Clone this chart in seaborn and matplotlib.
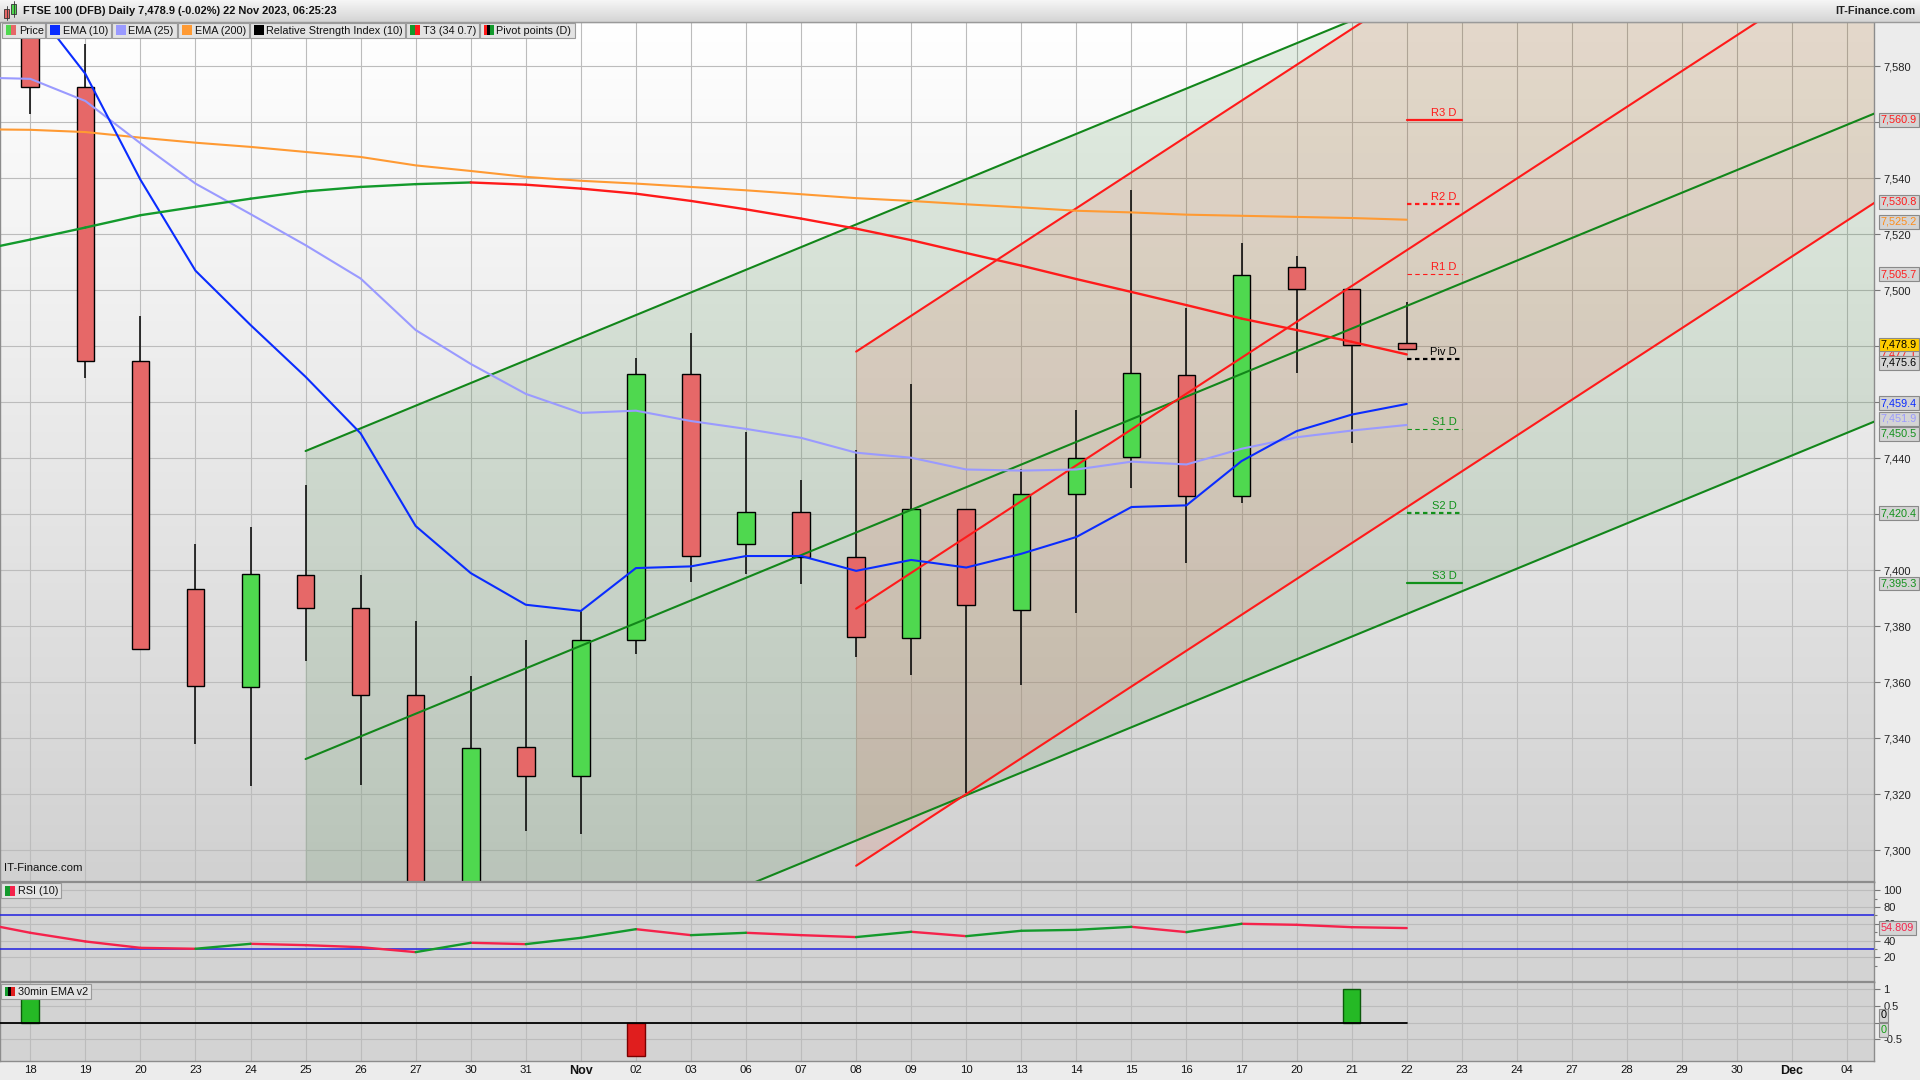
import numpy as np
import pandas as pd
import matplotlib.pyplot as plt
import seaborn as sns
from matplotlib.colors import LinearSegmentedColormap
from matplotlib.patches import Rectangle

sns.set_theme(style='white')
plt.rcParams['font.family'] = ['Liberation Sans', 'DejaVu Sans']

# x axis: trading days, index 0 = 18 Oct 2023
day_labels = ['18', '19', '20', '23', '24', '25', '26', '27', '30', '31', 'Nov', '02', '03',
              '06', '07', '08', '09', '10', '13', '14', '15', '16', '17', '20', '21', '22',
              '23', '24', '27', '28', '29', '30', 'Dec', '04']

# daily candles 18 Oct - 22 Nov
candle_open = [7598.0, 7572.6, 7474.7, 7393.2, 7358.3, 7398.2, 7386.5, 7355.4, 7285.0, 7336.8,
               7326.4, 7375.2, 7470.1, 7409.5, 7420.8, 7404.7, 7375.8, 7421.8, 7385.9, 7427.3,
               7440.4, 7469.9, 7426.5, 7508.2, 7500.6, 7481.1]
candle_high = [7606.0, 7588.0, 7490.9, 7409.5, 7415.4, 7430.5, 7398.4, 7381.9, 7362.3, 7375.2,
               7385.9, 7475.7, 7484.6, 7449.3, 7432.3, 7443.0, 7466.5, 7422.0, 7436.0, 7457.2,
               7535.9, 7493.7, 7516.9, 7512.3, 7500.6, 7495.8]
candle_low = [7562.9, 7468.7, 7371.8, 7338.1, 7323.1, 7367.5, 7323.5, 7275.0, 7275.0, 7307.0,
              7306.0, 7370.0, 7396.0, 7398.8, 7395.0, 7369.2, 7362.7, 7320.5, 7359.1, 7384.9,
              7429.5, 7402.7, 7424.0, 7470.3, 7445.5, 7478.9]
candle_close = [7572.6, 7474.7, 7371.8, 7358.7, 7398.8, 7386.5, 7355.4, 7282.0, 7336.4, 7326.6,
                7375.0, 7470.1, 7405.1, 7420.8, 7404.7, 7376.2, 7421.9, 7387.7, 7427.1, 7440.2,
                7470.3, 7426.5, 7505.6, 7500.6, 7480.6, 7478.9]

# indicator lines, index -1 (17 Oct) to 25 (22 Nov)
line_days = list(range(-1, 26))
ema10 = [7628.0, 7602.6, 7577.3, 7539.5, 7507.0, 7487.6, 7469.1, 7448.9, 7415.8, 7399.0, 7387.7,
         7385.5, 7400.8, 7401.4, 7405.1, 7405.1, 7399.8, 7403.7, 7401.0, 7405.9, 7411.9, 7422.6,
         7423.2, 7439.0, 7449.7, 7455.6, 7459.4]
ema25 = [7576.0, 7575.5, 7567.6, 7552.5, 7538.1, 7527.2, 7516.1, 7504.2, 7485.8, 7473.7, 7463.0,
         7456.2, 7457.0, 7453.3, 7450.5, 7447.3, 7442.0, 7440.2, 7436.0, 7435.6, 7436.0, 7438.8,
         7437.8, 7443.4, 7447.5, 7449.9, 7451.9]
ema200 = [7557.5, 7557.3, 7556.5, 7554.5, 7552.7, 7551.2, 7549.4, 7547.6, 7544.6, 7542.6, 7540.5,
          7539.1, 7538.1, 7536.9, 7535.7, 7534.3, 7532.9, 7531.9, 7530.7, 7529.6, 7528.4, 7527.8,
          7527.0, 7526.6, 7526.2, 7525.8, 7525.2]
t3 = [7514.0, 7518.1, 7522.4, 7526.8, 7529.8, 7532.7, 7535.3, 7536.9, 7537.9, 7538.5, 7537.7,
      7536.3, 7534.5, 7531.9, 7528.9, 7525.6, 7522.0, 7517.9, 7513.3, 7508.8, 7504.0, 7499.4,
      7494.7, 7489.9, 7485.8, 7481.6, 7477.1]
rsi = [62.0, 49.2, 38.9, 31.3, 30.2, 36.1, 34.5, 32.1, 26.2, 37.3, 35.7, 43.2, 53.5, 46.4, 49.2,
       46.4, 44.1, 50.4, 45.2, 51.6, 52.7, 56.3, 50.0, 59.9, 58.7, 55.9, 54.809]

# 30min EMA v2 signal bars
signal_days = [0, 11, 24]
signal_values = [1, -1, 1]

# trend channels: (start day, centre at start, slope per day, half width)
green_channel = (5, 7332.6, 8.09, 110.0)
red_channel = (15, 7386.3, 12.8, 91.8)

# daily pivot points for 22 Nov
pivot_names = ['R3 D', 'R2 D', 'R1 D', 'Piv D', 'S1 D', 'S2 D', 'S3 D']
pivot_values = [7560.9, 7530.8, 7505.7, 7475.6, 7450.5, 7420.4, 7395.3]

W, H = 1920, 1080
GREEN = '#12861a'
RED = '#ff1a1a'


def rect(l, t, r, b):
    return [l / W, 1 - b / H, (r - l) / W, (b - t) / H]


def seg_frame(x, y):
    rows = []
    for k in range(len(x) - 1):
        d = 'up' if y[k + 1] >= y[k] else 'down'
        rows += [(k, x[k], y[k], d), (k, x[k + 1], y[k + 1], d)]
    return pd.DataFrame(rows, columns=['seg', 'day', 'value', 'dir'])


def channel(ch, x_end=34):
    start, centre, slope, half = ch
    x = np.array([start, x_end])
    mid = centre + slope * (x - start)
    return x, mid - half, mid, mid + half


fig = plt.figure(figsize=(19.2, 10.8), dpi=100, facecolor='#ececec')
ax = fig.add_axes(rect(0, 22, 1873.6, 881.7))
ax_rsi = fig.add_axes(rect(0, 881.7, 1873.6, 981.7), sharex=ax)
ax_sig = fig.add_axes(rect(0, 981.7, 1873.6, 1061), sharex=ax)

grad = np.linspace(0, 1, 256).reshape(-1, 1)
ax.imshow(grad, cmap=LinearSegmentedColormap.from_list('bg', ['#ffffff', '#d1d1d1']),
          aspect='auto', extent=(0, 1, 0, 1), transform=ax.transAxes, zorder=0)
for a in (ax_rsi, ax_sig):
    a.set_facecolor('#d3d3d3')

# channels
gx, glo, gmid, ghi = channel(green_channel)
rx, rlo, rmid, rhi = channel(red_channel)
ax.fill_between(gx, glo, ghi, color='#006100', alpha=0.11, lw=0, zorder=1)
ax.fill_between(rx, rlo, rhi, color='#eb461e', alpha=0.12, lw=0, zorder=1.1)
for y in (glo, gmid, ghi):
    ax.plot(gx, y, color=GREEN, lw=1.5, zorder=3)
for y in (rlo, rmid, rhi):
    ax.plot(rx, y, color=RED, lw=1.5, zorder=3)

# candles
df = pd.DataFrame({'open': candle_open, 'high': candle_high,
                   'low': candle_low, 'close': candle_close})
df['day'] = np.arange(len(df))
body_col = np.where(df.close >= df.open, '#4fd84f', '#e66868')
ax.vlines(df.day, df.low, df.high, color='black', lw=1.1, zorder=2)
ax.bar(df.day, (df.close - df.open).abs(), bottom=df[['open', 'close']].min(axis=1),
       width=0.32, color=body_col, edgecolor='black', linewidth=1, zorder=2.1)

# moving averages
lines = pd.DataFrame({'day': line_days, 'ema10': ema10, 'ema25': ema25, 'ema200': ema200})
sns.lineplot(data=lines, x='day', y='ema200', ax=ax, color='#ff9a33', lw=1.5, zorder=4)
sns.lineplot(data=lines, x='day', y='ema25', ax=ax, color='#9a9aff', lw=1.5, zorder=4)
sns.lineplot(data=lines, x='day', y='ema10', ax=ax, color='#0a2cff', lw=1.5, zorder=4)
sns.lineplot(data=seg_frame(line_days, t3), x='day', y='value', hue='dir', units='seg',
             estimator=None, palette={'up': '#139a2c', 'down': RED}, lw=1.7,
             legend=False, ax=ax, zorder=4)

# pivots
piv_colors = [RED] * 3 + ['black'] + ['#11911a'] * 3
piv_styles = ['-', (0, (2, 1.6)), (0, (4, 3)), (0, (2, 1.6)), (0, (4, 3)), (0, (2, 1.6)), '-']
piv_widths = [1.6, 1.6, 0.8, 1.6, 0.8, 1.6, 1.6]
for name, val, c, ls, lw in zip(pivot_names, pivot_values, piv_colors, piv_styles, piv_widths):
    ax.plot([25, 26], [val, val], color=c, ls=ls, lw=lw, zorder=3)
    ax.annotate(name, (25.9, val), xytext=(0, 1.5), textcoords='offset points',
                ha='right', va='bottom', fontsize=8, color=c, zorder=5)

ax.text(0.002, 0.012, 'IT-Finance.com', transform=ax.transAxes, fontsize=8.2,
        color='#111111', zorder=6)

# RSI panel
sns.lineplot(data=seg_frame(line_days, rsi), x='day', y='value', hue='dir', units='seg',
             estimator=None, palette={'up': '#139a2c', 'down': '#f5224b'}, lw=1.7,
             legend=False, ax=ax_rsi, zorder=4)
ax_rsi.axhline(70, color='#2020e0', lw=1.1, zorder=3)
ax_rsi.axhline(30, color='#2020e0', lw=1.1, zorder=3)

# signal panel
sig = pd.DataFrame({'day': signal_days, 'value': signal_values})
ax_sig.bar(sig.day, sig.value, width=0.32,
           color=np.where(sig.value > 0, '#25b925', '#e01e1e'),
           edgecolor=np.where(sig.value > 0, '#0b5a0b', '#7a0000'), lw=1, zorder=2)
ax_sig.plot([-1, 25], [0, 0], color='black', lw=1.3, zorder=3)

# axes, ticks, grid
ax.set_xlim(-0.55, 33.48)
ax.set_ylim(7288.8, 7595.8)
ax_rsi.set_ylim(-9, 110)
ax_sig.set_ylim(-1.15, 1.23)

# labels under the value boxes are hidden in the original, so they stay blank
covered = {7560, 7480, 7460, 7420}
price_ticks = list(range(7300, 7600, 20))
ax.set_yticks(price_ticks)
ax.set_yticklabels(['' if v in covered else f'{v:,}' for v in price_ticks])
for lab, v in zip(ax.get_yticklabels(), price_ticks):
    if v % 100 == 0:
        lab.set_fontweight('bold')
ax_rsi.set_yticks([20, 40, 60, 80, 100])
ax_rsi.set_yticks([10, 30, 50, 70, 90], minor=True)
ax_rsi.set_yticklabels(['20', '40', '60', '80', '100'])
ax_rsi.get_yticklabels()[-1].set_fontweight('bold')
ax_sig.set_yticks([-0.5, 0, 0.5, 1])
ax_sig.set_yticklabels(['-0.5', '', '0.5', '1'])

for a in (ax, ax_rsi, ax_sig):
    a.set_xticks(range(len(day_labels)))
    a.grid(True, color='#bcbcbc', lw=0.8)
    a.grid(False, which='minor')
    a.set_axisbelow(True)
    a.yaxis.tick_right()
    a.tick_params(axis='y', which='both', right=True, length=4, width=0.8, color='#777777',
                  labelsize=8, labelcolor='#222222', pad=3)
    a.tick_params(axis='y', which='minor', length=2.5)
    a.tick_params(axis='x', length=0)
    a.set_xlabel('')
    a.set_ylabel('')
    for s in a.spines.values():
        s.set_color('#8c8c8c')
        s.set_linewidth(1.0)
    a.spines['top'].set_linewidth(1.6)
ax.tick_params(axis='x', labelbottom=False)
ax_rsi.tick_params(axis='x', labelbottom=False)
ax_sig.set_xticklabels(day_labels)
ax_sig.tick_params(axis='x', labelsize=8.2, labelcolor='#111111', pad=3)
for lab in ax_sig.get_xticklabels():
    if lab.get_text() in ('Nov', 'Dec'):
        lab.set_fontweight('bold')
        lab.set_fontsize(9)


def value_box(a, val, color, face='#d4d4d4', dy=0, fmt='{:,.1f}'):
    a.annotate(fmt.format(val), xy=(1, val), xycoords=('axes fraction', 'data'),
               xytext=(5, dy), textcoords='offset points', ha='left', va='center',
               fontsize=7.8, color=color, annotation_clip=False, zorder=10,
               bbox=dict(boxstyle='square,pad=0.18', fc=face, ec='#8a8a8a', lw=0.8))


value_box(ax, pivot_values[0], RED)
value_box(ax, pivot_values[1], RED, dy=1.5)
value_box(ax, ema200[-1], '#ff8c1a', dy=-1.5)
value_box(ax, pivot_values[2], RED)
value_box(ax, t3[-1], RED)
value_box(ax, pivot_values[3], 'black', dy=-3)
value_box(ax, candle_close[-1], 'black', face='#ffcc00', dy=3.5)
value_box(ax, ema10[-1], '#0a2cff', dy=0.5)
value_box(ax, ema25[-1], '#9a9aff', dy=4.6)
value_box(ax, pivot_values[4], '#11911a', dy=-3.6)
value_box(ax, pivot_values[5], '#11911a')
value_box(ax, pivot_values[6], '#11911a')
value_box(ax_rsi, rsi[-1], '#f5224b', fmt='{:.3f}')
value_box(ax_sig, 0, 'black', dy=5.2, fmt='{:.0f}')
value_box(ax_sig, 0, '#11a011', dy=-5.2, fmt='{:.0f}')

# overlay: header bar and legend chips
ov = fig.add_axes([0, 0, 1, 1], zorder=20)
ov.imshow(grad, cmap=LinearSegmentedColormap.from_list('hd', ['#f6f6f6', '#d4d4d4']),
          aspect='auto', extent=(0, W, 22, 0))
ov.set_xlim(0, W)
ov.set_ylim(H, 0)
ov.axis('off')
ov.patch.set_alpha(0)
ov.plot([0, W], [22, 22], color='#9a9a9a', lw=1)
ov.add_patch(Rectangle((4, 9), 5, 9, fc='#e66868', ec='#333333', lw=0.6))
ov.plot([6.5, 6.5], [6, 20], color='#333333', lw=0.6)
ov.add_patch(Rectangle((11, 4), 5, 10, fc='#4fd84f', ec='#333333', lw=0.6))
ov.plot([13.5, 13.5], [1, 17], color='#333333', lw=0.6)
ov.text(23, 11.5, 'FTSE 100 (DFB) Daily 7,478.9 (-0.02%) 22 Nov 2023, 06:25:23',
        fontsize=7.9, fontweight='bold', va='center', color='#111111')
ov.text(1915, 11.5, 'IT-Finance.com', fontsize=7.9, fontweight='bold', va='center',
        ha='right', color='#222222')


def chip(x0, x1, y0, y1, label, colors):
    ov.add_patch(Rectangle((x0, y0), x1 - x0, y1 - y0, fc='#e3e3e3', ec='#9a9a9a', lw=0.8))
    sw = 10 / len(colors)
    for k, c in enumerate(colors):
        ov.add_patch(Rectangle((x0 + 4 + k * sw, y0 + 2.5), sw, y1 - y0 - 5, fc=c, lw=0))
    ov.text(x0 + 17, (y0 + y1) / 2 + 0.5, label, fontsize=7.8, va='center', color='#111111')


chip(2, 45, 22.5, 37.5, 'Price', ['#4fd84f', '#e66868'])
chip(46, 110.5, 22.5, 37.5, 'EMA (10)', ['#0a2cff'])
chip(111.5, 177, 22.5, 37.5, 'EMA (25)', ['#9a9aff'])
chip(178, 248.5, 22.5, 37.5, 'EMA (200)', ['#ff9a33'])
chip(249.5, 405, 22.5, 37.5, 'Relative Strength Index (10)', ['black'])
chip(406, 478.5, 22.5, 37.5, 'T3 (34 0.7)', ['#139a2c', RED])
chip(479.5, 574.5, 22.5, 37.5, 'Pivot points (D)', [RED, 'black', '#139a2c'])
chip(0.5, 61, 883, 898, 'RSI (10)', ['#139a2c', '#f5224b'])
chip(0.5, 91, 984, 998.5, '30min EMA v2', ['#139a2c', 'black', '#e01e1e'])

fig.savefig('out.png', dpi=100, facecolor=fig.get_facecolor())
